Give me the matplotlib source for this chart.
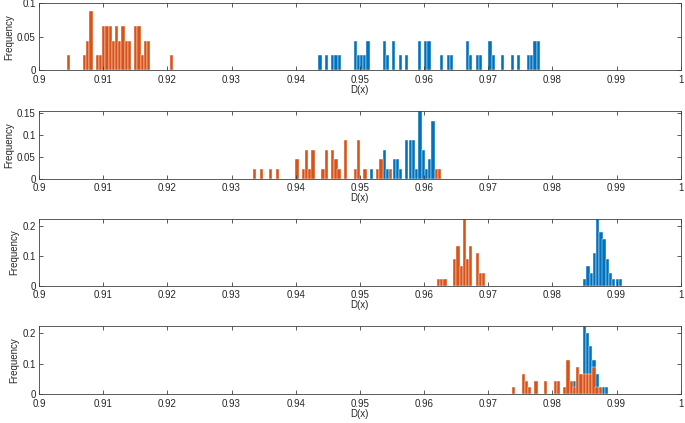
import numpy as np
import matplotlib
matplotlib.use('Agg')
import matplotlib.pyplot as plt

plt.rcParams['font.family'] = ['Liberation Sans', 'DejaVu Sans']

# DATOS: centros de clase y numero de muestras (de 45) por panel
N = 45.0

p1_orange_x = [0.90459, 0.90709, 0.90759, 0.90809, 0.90909, 0.90959, 0.91009, 0.91059,
               0.91109, 0.91159, 0.91209, 0.91259, 0.91309, 0.91359, 0.91409, 0.91509,
               0.91559, 0.91609, 0.91659, 0.91709, 0.92059]
p1_orange_n = [1, 1, 2, 4, 1, 1, 3, 3, 3, 2, 3, 2, 3, 2, 2, 3, 3, 1, 2, 2, 1]
p1_blue_x = [0.94378, 0.94478, 0.94578, 0.94628, 0.94678, 0.94928, 0.94978, 0.95028,
             0.95078, 0.95128, 0.95378, 0.95428, 0.95528, 0.95628, 0.95728, 0.95928,
             0.96028, 0.96078, 0.96278, 0.96378, 0.96428, 0.96678, 0.96728, 0.96828,
             0.96878, 0.97028, 0.97078, 0.97228, 0.97378, 0.97478, 0.97628, 0.97678,
             0.97728, 0.97778]
p1_blue_n = [1, 1, 1, 1, 1, 2, 1, 1, 1, 2, 2, 1, 2, 1, 1, 2, 2, 2, 1, 1, 1, 2, 1, 1,
             1, 2, 1, 1, 1, 1, 1, 1, 2, 2]

p2_orange_x = [0.93363, 0.93467, 0.93613, 0.93717, 0.94019, 0.94119, 0.94170, 0.94222,
               0.94269, 0.94425, 0.94478, 0.94577, 0.94628, 0.94675, 0.94780, 0.94928,
               0.94978, 0.95081, 0.95280, 0.95331, 0.95483, 0.96191, 0.96238]
p2_orange_n = [1, 1, 1, 1, 2, 1, 3, 1, 3, 1, 3, 3, 2, 1, 4, 1, 4, 1, 1, 2, 1, 1, 1]
p2_blue_x = [0.95181, 0.95378, 0.95431, 0.95534, 0.95581, 0.95634, 0.95733, 0.95784,
             0.95838, 0.95884, 0.95936, 0.95988, 0.96034, 0.96088, 0.96139]
p2_blue_n = [1, 3, 1, 2, 2, 1, 4, 4, 4, 1, 7, 3, 1, 2, 6]

p3_orange_x = [0.96228, 0.96275, 0.96328, 0.96478, 0.96531, 0.96578, 0.96630, 0.96681,
               0.96728, 0.96828, 0.96880, 0.96931]
p3_orange_n = [1, 1, 1, 4, 6, 3, 10, 4, 6, 5, 2, 2]
p3_blue_x = [0.98509, 0.98556, 0.98609, 0.98656, 0.98708, 0.98759, 0.98806, 0.98859,
             0.98911, 0.98958, 0.99009, 0.99063]
p3_blue_n = [1, 3, 2, 5, 10, 8, 7, 4, 2, 1, 1, 1]

p4_orange_x = [0.97395, 0.97547, 0.97594, 0.97645, 0.97744, 0.97895, 0.98047, 0.98094,
               0.98197, 0.98244, 0.98297, 0.98348, 0.98395, 0.98447, 0.98500, 0.98547,
               0.98598, 0.98650, 0.98697, 0.98750]
p4_orange_n = [1, 3, 2, 1, 2, 2, 2, 2, 1, 5, 2, 1, 4, 3, 3, 3, 3, 4, 1, 1]
p4_blue_x = [0.98297, 0.98348, 0.98395, 0.98447, 0.98500, 0.98547, 0.98598, 0.98650,
             0.98697, 0.98750, 0.98802, 0.98848]
p4_blue_n = [1, 2, 3, 2, 10, 9, 7, 5, 3, 1, 1, 1]

xticks = [0.9, 0.91, 0.92, 0.93, 0.94, 0.95, 0.96, 0.97, 0.98, 0.99, 1.0]
xticklabels = ['0.9', '0.91', '0.92', '0.93', '0.94', '0.95', '0.96', '0.97', '0.98', '0.99', '1']

paneles = [
    (p1_blue_x, p1_blue_n, p1_orange_x, p1_orange_n, 0.1, [0, 0.05, 0.1], ['0', '0.05', '0.1']),
    (p2_blue_x, p2_blue_n, p2_orange_x, p2_orange_n, 7 / N, [0, 0.05, 0.1, 0.15], ['0', '0.05', '0.1', '0.15']),
    (p3_blue_x, p3_blue_n, p3_orange_x, p3_orange_n, 10 / N, [0, 0.1, 0.2], ['0', '0.1', '0.2']),
    (p4_blue_x, p4_blue_n, p4_orange_x, p4_orange_n, 10 / N, [0, 0.1, 0.2], ['0', '0.1', '0.2']),
]

AZUL = '#0072BD'
NARANJA = '#D95319'
GRIS = '#404040'
W, H = 685.0, 423.0

# posiciones de los ejes en pixeles (arriba, abajo)
filas = [(3.3, 70.3), (111.0, 178.7), (219.0, 286.0), (326.0, 394.3)]
izq, der = 39.0, 680.7

fig = plt.figure(figsize=(6.85, 4.23), dpi=100)

for (bx, bn, ox, on, ytop, yt, ytl), (top, bot) in zip(paneles, filas):
    ax = fig.add_axes([izq / W, 1 - bot / H, (der - izq) / W, (bot - top) / H])
    ax.bar(bx, np.array(bn) / N, width=0.0005, color=AZUL, edgecolor='white', linewidth=0.3)
    ax.bar(ox, np.array(on) / N, width=0.0005, color=NARANJA, edgecolor='white', linewidth=0.3)
    ax.set_xlim(0.9, 1.0)
    ax.set_ylim(0, ytop)
    ax.set_xticks(xticks)
    ax.set_xticklabels(xticklabels)
    ax.set_yticks(yt)
    ax.set_yticklabels(ytl)
    ax.tick_params(direction='in', length=3, width=0.6, color=GRIS, labelsize=7,
                   labelcolor='#262626', top=True, right=True)
    ax.tick_params(axis='x', pad=3.2)
    ax.tick_params(axis='y', pad=2.5)
    for s in ax.spines.values():
        s.set_color(GRIS)
        s.set_linewidth(0.6)
    ax.set_xlabel('D(x)', fontsize=7, color='#262626', labelpad=0)
    ax.set_ylabel('Frequency', fontsize=7, color='#262626', labelpad=2)

fig.savefig('out.png', dpi=100)
